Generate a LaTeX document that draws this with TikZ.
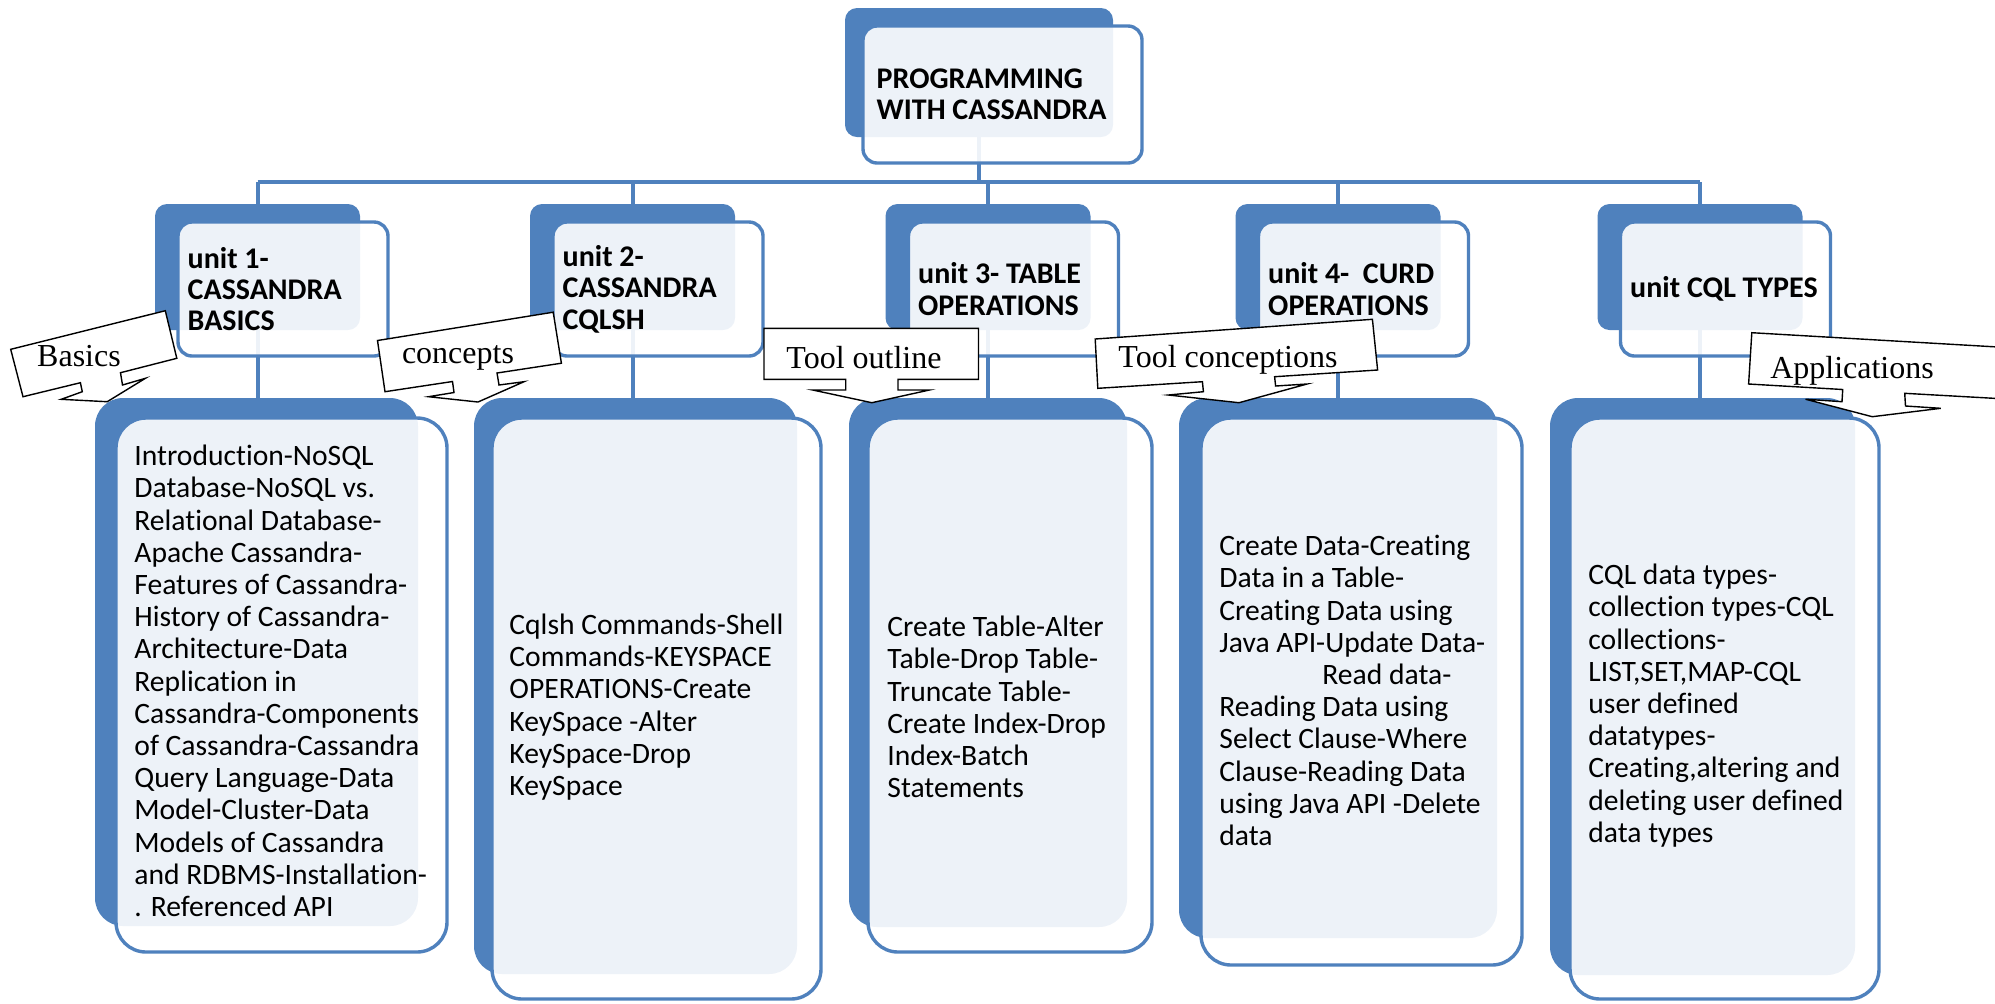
\documentclass[tikz,border=0pt]{standalone}
\usepackage{fontspec}
\setmainfont{Carlito}[Ligatures={TeX,NoCommon}]
\newfontfamily\callfont{Liberation Serif}
\usepackage{tikz}
\usetikzlibrary{positioning,fit,backgrounds,calc}
\definecolor{unitblue}{RGB}{79,129,189}

\begin{document}
\begin{tikzpicture}[x=0.5pt,y=-0.5pt,
    back/.style={fill=unitblue,inner sep=0pt,rounded corners=6pt},
    front/.style={draw=unitblue,line width=1.7pt,fill=white,fill opacity=0.9,inner sep=0pt,rounded corners=7pt},
    cback/.style={back,rounded corners=14pt},
    cfront/.style={front,rounded corners=15pt},
    head/.style={font=\bfseries\fontsize{15}{15.7}\selectfont,align=left,inner sep=0pt,anchor=west},
    body/.style={font=\fontsize{14.8}{16.1}\selectfont,align=left,inner sep=0pt,anchor=west},
    link/.style={draw=unitblue,line width=2pt},
    callout/.style={draw=black,fill=white,line width=0.7pt,line join=miter},
    calltext/.style={font=\callfont\fontsize{16}{17}\selectfont,inner sep=0pt}]

      \useasboundingbox (0,0) rectangle (1995,1003);
      \clip (0,0) rectangle (1995,1003);
      \coordinate (bus) at (0,182);

      % root
      \node[back,fit={(845,8) (1113,137)}] (topb) {};
      \node[front,fit={(863,26) (1142,163)}] (top) {};
      \node[head] (topt) at ([xshift=7.5pt]top.west) {PROGRAMMING\\WITH CASSANDRA};

      % units
      \foreach \n/\x in {1/155,2/530,3/885.5,4/1235.5,5/1597.5} {
        \node[back,fit={(\x,204) (\x+205,330)}] (u\n b) {};
        \node[front,fit={(\x+23,222) (\x+233,356)}] (u\n) {};
      }
      \node[head] (u1t) at ([xshift=5.5pt]u1.west) {unit 1-\\CASSANDRA\\BASICS};
      \node[head] (u2t) at ([xshift=5.5pt]u2.west) {unit 2-\\CASSANDRA\\CQLSH};
      \node[head] (u3t) at ([xshift=5.5pt]u3.west) {unit 3- TABLE\\OPERATIONS};
      \node[head] (u4t) at ([xshift=5.5pt]u4.west) {unit 4-~~CURD\\OPERATIONS};
      \node[head] (u5t) at ([xshift=5.5pt]u5.west) {unit CQL TYPES};

      % contents
      \node[cback,fit={(95,398) (418,926)}] (c1b) {};
      \node[cfront,fit={(116,418) (447,952)}] (c1) {};
      \node[cback,fit={(474,398) (797,974)}] (c2b) {};
      \node[cfront,fit={(492,418) (821,999)}] (c2) {};
      \node[cback,fit={(849,398) (1127,927)}] (c3b) {};
      \node[cfront,fit={(868,418) (1152,952)}] (c3) {};
      \node[cback,fit={(1179,398) (1497,938)}] (c4b) {};
      \node[cfront,fit={(1201,418) (1522,965)}] (c4) {};
      \node[cback,fit={(1550,398) (1855,975)}] (c5b) {};
      \node[cfront,fit={(1570,418) (1879,999)}] (c5) {};

      \node[body] (c1t) at (134,681) {Introduction-NoSQL\\Database-NoSQL vs.\\Relational Database-\\Apache Cassandra-\\Features of Cassandra-\\History of Cassandra-\\Architecture-Data\\Replication in\\Cassandra-Components\\of Cassandra-Cassandra\\Query Language-Data\\Model-Cluster-Data\\Models of Cassandra\\and RDBMS-Installation-\\. Referenced API};
      \node[body] (c2t) at (509,707) {Cqlsh Commands-Shell\\Commands-KEYSPACE\\OPERATIONS-Create\\KeySpace -Alter\\KeySpace-Drop\\KeySpace};
      \node[body] (c3t) at (887,707) {Create Table-Alter\\Table-Drop Table-\\Truncate Table-\\Create Index-Drop\\Index-Batch\\Statements};
      \node[body] (c4t) at (1219,690.5) {Create Data-Creating\\Data in a Table-\\Creating Data using\\Java API-Update Data-\\\hspace*{51.5pt}Read data-\\Reading Data using\\Select Clause-Where\\Clause-Reading Data\\using Java API -Delete\\data};
      \node[body] (c5t) at (1588,705.5) {CQL data types-\\collection types-CQL\\collections-\\LIST,SET,MAP-CQL\\user defined\\datatypes-\\Creating,altering and\\deleting user defined\\data types};

      % connectors
      \begin{scope}[on background layer]
        \draw[link] (topb.center) -- (topb.center |- bus);
        \draw[link] (u1b.center |- bus) -- (u5b.center |- bus);
        \foreach \n in {1,...,5}
          \draw[link] (u\n b.center |- bus) -- (u\n b.center |- c\n b.north);
      \end{scope}

      % callouts
      \draw[callout] (10.7,349.3) -- (165.3,310.7) -- (176.8,358.3) -- (120.5,372.7) -- (122.5,385) -- (145.4,378.3) -- (107.2,401.7) -- (61.2,399.3) -- (82.3,391.7) -- (80.4,382.7) -- (23,396.7) -- cycle;
      \node[calltext] (basics) at (79,356) {Basics};

      \draw[callout] (377.5,340.5) -- (553.2,312.2) -- (561.4,363.2) -- (497,373) -- (499,385) -- (524,381.7) -- (478,402) -- (428.6,396.7) -- (454,392.5) -- (452.5,381.5) -- (385,391.7) -- cycle;
      \node[calltext] (concepts) at (458,358) {concepts};

      \draw[callout] (764,328.3) -- (978.5,328.3) -- (978.5,379.3) -- (898,379.3) -- (898,390) -- (929.4,390) -- (871.8,402.7) -- (812.7,390) -- (845.7,390) -- (845.7,379.3) -- (764,379.3) -- cycle;
      \node[calltext] (outline) at (864,357.5) {Tool outline};

      \draw[callout] (1095.2,339) -- (1372.4,319.3) -- (1377.6,370) -- (1274.6,376.7) -- (1275.6,386) -- (1307,384) -- (1239,402.7) -- (1168.4,395) -- (1203.4,391.7) -- (1202.4,381.7) -- (1097.8,388.3) -- cycle;
      \node[calltext] (conceptions) at (1228,360) {Tool conceptions};

      \draw[callout] (1751.8,332.7) -- (2010,347.7) -- (2010,399.2) -- (1904.7,393.3) -- (1905.5,406) -- (1940.8,408.3) -- (1872.2,416.7) -- (1805.5,399.2) -- (1842,401.7) -- (1842.7,389.5) -- (1748.6,384) -- cycle;
      \node[calltext] (applications) at (1852,371) {Applications};
    \end{tikzpicture}
\end{document}
